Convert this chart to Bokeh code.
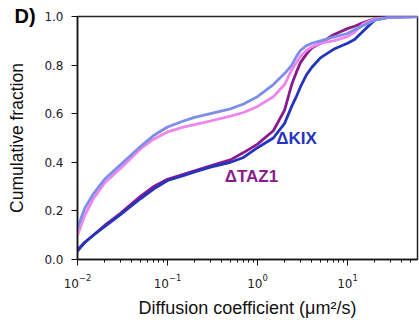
from bokeh.plotting import figure
from bokeh.models import Range1d, FixedTicker, PrintfTickFormatter, Label
from bokeh.core.properties import value
from bokeh.embed import file_html
from bokeh.resources import INLINE

# Diffusion coefficient grid (µm²/s) at which the curves were read
D = [0.01, 0.012, 0.015, 0.02, 0.03, 0.05, 0.07, 0.1, 0.15, 0.2, 0.3, 0.5, 0.7,
     1.0, 1.5, 2.0, 2.4, 2.7, 3.0, 3.5, 4.0, 5.0, 7.0, 10.0, 12.0, 15.0, 20.0, 30.0, 60.0]

# cumulative fractions for each condition
wt_blue = [0.13, 0.21, 0.27, 0.33, 0.39, 0.465, 0.51, 0.545, 0.57, 0.585, 0.60, 0.62, 0.64,
           0.67, 0.72, 0.765, 0.80, 0.835, 0.86, 0.88, 0.89, 0.90, 0.915, 0.93, 0.945, 0.963, 0.985, 0.997, 1.0]
wt_pink = [0.10, 0.18, 0.25, 0.315, 0.375, 0.455, 0.495, 0.525, 0.545, 0.555, 0.57, 0.59, 0.605,
           0.63, 0.67, 0.72, 0.78, 0.81, 0.835, 0.86, 0.875, 0.89, 0.90, 0.917, 0.935, 0.97, 0.99, 0.998, 1.0]
dtaz1 = [0.04, 0.07, 0.10, 0.14, 0.19, 0.26, 0.30, 0.33, 0.35, 0.365, 0.385, 0.41, 0.44,
         0.475, 0.53, 0.615, 0.72, 0.77, 0.81, 0.845, 0.87, 0.89, 0.925, 0.95, 0.96, 0.975, 0.99, 0.998, 1.0]
dkix = [0.035, 0.07, 0.10, 0.135, 0.185, 0.25, 0.29, 0.325, 0.345, 0.36, 0.38, 0.40, 0.42,
        0.46, 0.50, 0.56, 0.63, 0.67, 0.71, 0.76, 0.79, 0.83, 0.865, 0.89, 0.905, 0.94, 0.985, 0.998, 1.0]

x_ticks = [0.01, 0.1, 1, 10]
x_tick_labels = ["10⁻²", "10⁻¹", "10⁰", "10¹"]
x_minor = [0.02, 0.03, 0.04, 0.05, 0.06, 0.07, 0.08, 0.09,
           0.2, 0.3, 0.4, 0.5, 0.6, 0.7, 0.8, 0.9,
           2, 3, 4, 5, 6, 7, 8, 9, 20, 30, 40, 50]
y_ticks = [0.0, 0.2, 0.4, 0.6, 0.8, 1.0]

labels = ["ΔKIX", "ΔTAZ1"]
label_x = [2.71, 0.857]
label_y = [0.496, 0.34]

panel_tag = "D)"

C_BLUE_L = "#7d8ee8"
C_PINK = "#ee86ee"
C_PURPLE = "#8a1a8c"
C_BLUE_D = "#2434bd"

p = figure(width=419, height=320, x_axis_type="log", output_backend="svg",
           toolbar_location=None,
           x_range=Range1d(0.01, 60), y_range=Range1d(0, 1.0),
           min_border_left=77, min_border_right=2, min_border_top=16, min_border_bottom=60)
p.grid.visible = False
p.outline_line_color = "#222222"
p.outline_line_width = 1.5
p.background_fill_color = "white"
p.border_fill_color = "white"

for ys, c in [(dtaz1, C_PURPLE), (dkix, C_BLUE_D), (wt_pink, C_PINK), (wt_blue, C_BLUE_L)]:
    p.line(D, ys, line_color=c, line_width=2.8, line_join="round", line_cap="round")

xa = p.xaxis[0]
xa.ticker = FixedTicker(ticks=x_ticks, minor_ticks=x_minor)
xa.major_label_overrides = {str(t) if t < 1 else str(int(t)): l for t, l in zip(x_ticks, x_tick_labels)}
xa.axis_label = "Diffusion coefficient (μm²/s)"

ya = p.yaxis[0]
ya.ticker = FixedTicker(ticks=y_ticks, minor_ticks=[])
ya.formatter = PrintfTickFormatter(format="%.1f")
ya.axis_label = "Cumulative fraction"

for ax in (xa, ya):
    ax.axis_line_color = "#111111"
    ax.axis_line_width = 1.5
    ax.major_tick_line_color = "#111111"
    ax.minor_tick_line_color = "#111111"
    ax.major_tick_out = 6
    ax.major_tick_in = 0
    ax.minor_tick_out = 3
    ax.minor_tick_in = 0
    ax.major_label_text_font = "DejaVu Sans"
    ax.major_label_text_font_size = "12px"
    ax.major_label_text_color = "#222222"
    ax.axis_label_text_font = "Liberation Sans"
    ax.axis_label_text_font_style = "normal"
    ax.axis_label_text_color = "#111111"
xa.major_label_standoff = 8
ya.major_label_standoff = 8
xa.axis_label_text_font_size = "18px"
ya.axis_label_text_font_size = "17.5px"
xa.axis_label_standoff = 7
ya.axis_label_standoff = 14

for t, lx, ly, c in zip(labels, label_x, label_y, [C_BLUE_D, C_PURPLE]):
    p.add_layout(Label(x=lx, y=ly, text=t, text_color=c, text_font="Liberation Sans",
                       text_font_size="17px", text_font_style="bold",
                       text_align="center", text_baseline="middle"))

# panel letter drawn as an overlay-level glyph so it is not clipped to the frame
p.text(x=[0.002], y=[1.004], text=[panel_tag], level="overlay",
       text_font=value("Liberation Sans"), text_font_size="20px", text_font_style="bold",
       text_color="black", text_align="left", text_baseline="alphabetic")

open("out.html", "w").write(file_html(p, INLINE))
